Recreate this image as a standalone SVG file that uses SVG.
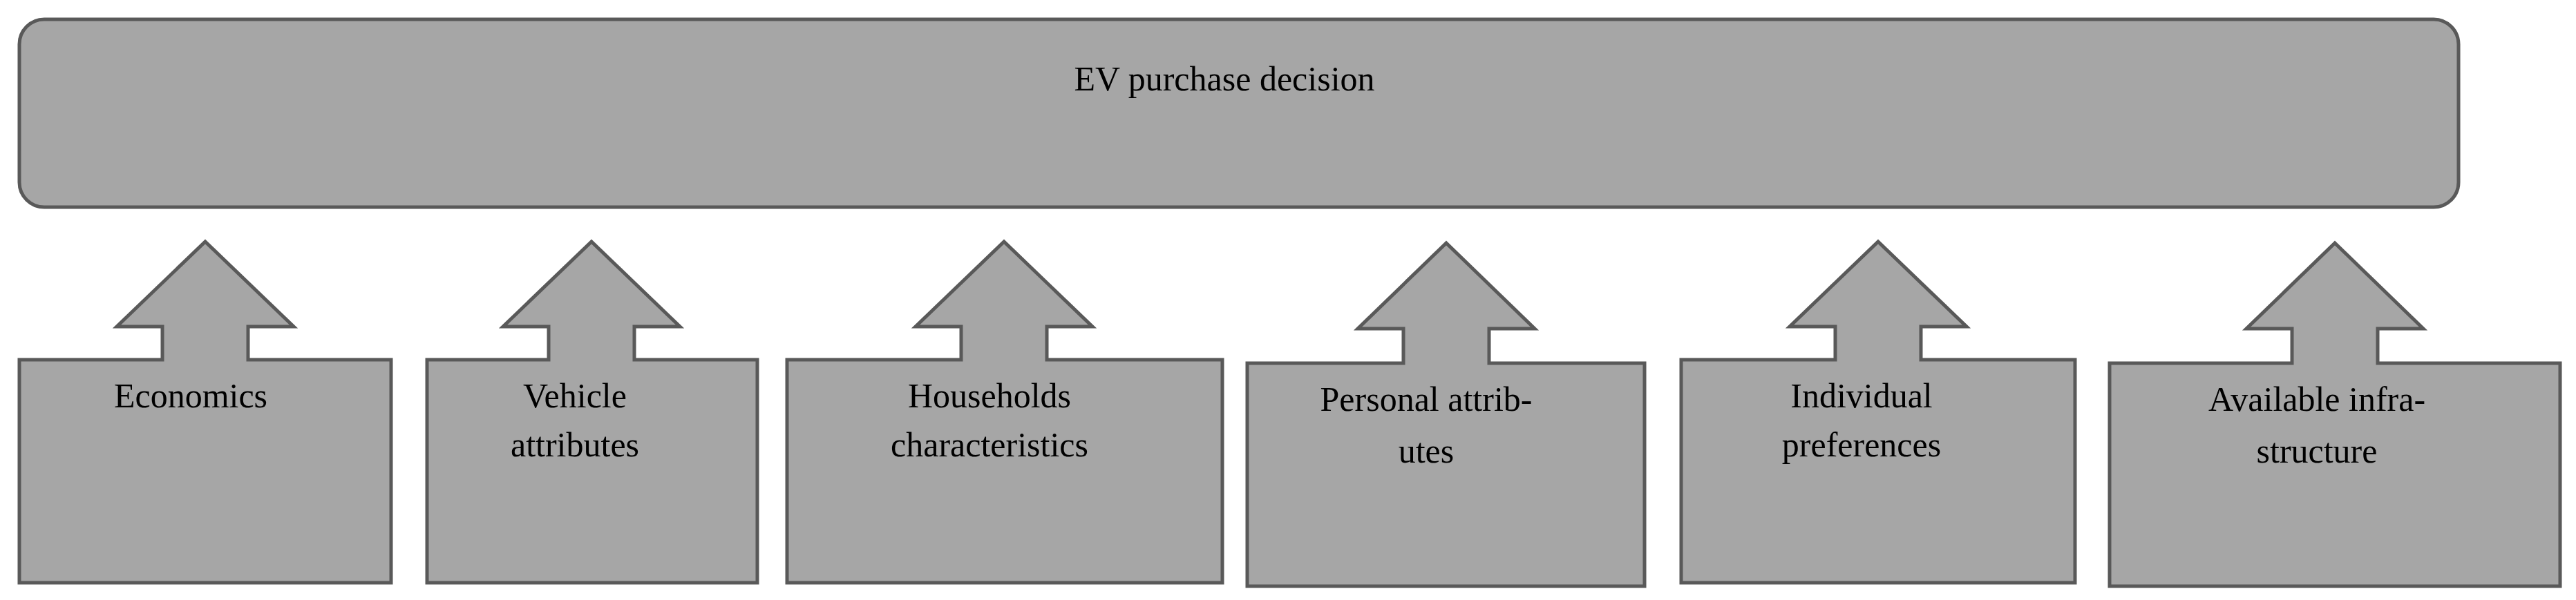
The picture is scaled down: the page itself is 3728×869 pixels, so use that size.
<svg xmlns="http://www.w3.org/2000/svg" width="3728" height="869" viewBox="0 0 3728 869">
<style>
.s{fill:#a6a6a6;stroke:#595959;stroke-width:5;stroke-linejoin:miter}
.t{font-family:"Liberation Serif",serif;font-size:50px;fill:#000;text-anchor:middle}
</style>
<rect width="3728" height="869" fill="#fff"/>
<g id="decision"><rect class="s" x="28" y="28" width="3530" height="272" rx="36"/><text class="t" x="1772" y="131">EV purchase decision</text></g>
<g id="connectors"></g>
<g id="economics"><path class="s" d="M28 521H235V473H169L297 350L425 473H359V521H566V844H28Z"/><text class="t" x="276" y="590">Economics</text></g>
<g id="vehicle"><path class="s" d="M618 521H794V473H728L856 350L984 473H918V521H1096V844H618Z"/><text class="t" x="832" y="590">Vehicle</text><text class="t" x="832" y="661">attributes</text></g>
<g id="households"><path class="s" d="M1139 521H1391V473H1325L1453 350L1581 473H1515V521H1769V844H1139Z"/><text class="t" x="1432" y="590">Households</text><text class="t" x="1432" y="661">characteristics</text></g>
<g id="personal"><path class="s" d="M1805 526H2031V476H1965L2093 352L2221 476H2155V526H2380V849H1805Z"/><text class="t" x="2064" y="595">Personal attrib-</text><text class="t" x="2064" y="670">utes</text></g>
<g id="individual"><path class="s" d="M2433 521H2656V473H2590L2718 350L2846 473H2780V521H3003V844H2433Z"/><text class="t" x="2694" y="590">Individual</text><text class="t" x="2694" y="661">preferences</text></g>
<g id="infrastructure"><path class="s" d="M3053 526H3317V476H3251L3379 352L3507 476H3441V526H3705V849H3053Z"/><text class="t" x="3353" y="595">Available infra-</text><text class="t" x="3353" y="670">structure</text></g>
</svg>
